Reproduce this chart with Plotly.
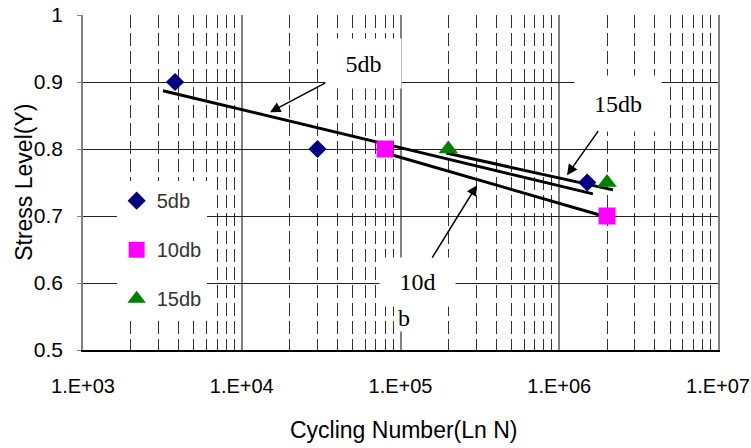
import plotly.graph_objects as go

# ---- data ----
x_5db = [3.8e3, 3.0e4, 1.5e6]
y_5db = [0.90, 0.80, 0.75]
x_10db = [8.0e4, 2.0e6]
y_10db = [0.80, 0.70]
x_15db = [2.0e5, 2.0e6]
y_15db = [0.80, 0.75]

# trend lines (end points)
trend_5db_x = [3.19e3, 1.63e6]
trend_5db_y = [0.887, 0.733]
trend_10db_x = [7.64e4, 2.09e6]
trend_10db_y = [0.7955, 0.697]
trend_15db_x = [1.94e5, 2.18e6]
trend_15db_y = [0.794, 0.739]

x_tickvals = [1e3, 1e4, 1e5, 1e6, 1e7]
x_ticktext = ["1.E+03", "1.E+04", "1.E+05", "1.E+06", "1.E+07"]
y_tickvals = [0.5, 0.6, 0.7, 0.8, 0.9, 1.0]
y_ticktext = ["0.5", "0.6", "0.7", "0.8", "0.9", "1"]

SANS = "Liberation Sans, Arial, sans-serif"
SERIF = "Liberation Serif, Times New Roman, serif"

fig = go.Figure()

for tx, ty in [(trend_5db_x, trend_5db_y), (trend_10db_x, trend_10db_y), (trend_15db_x, trend_15db_y)]:
    fig.add_trace(go.Scatter(x=tx, y=ty, mode="lines", line=dict(color="black", width=3),
                             showlegend=False, hoverinfo="skip"))

fig.add_trace(go.Scatter(x=x_5db, y=y_5db, mode="markers", name="5db", legendgroup="a",
                         marker=dict(symbol="diamond", size=14, color="#000080")))
fig.add_trace(go.Scatter(x=x_10db, y=y_10db, mode="markers", name="10db", legendgroup="b",
                         marker=dict(symbol="square", size=17, color="#FF00FF")))
fig.add_trace(go.Scatter(x=x_15db, y=y_15db, mode="markers", name="15db", legendgroup="c",
                         marker=dict(symbol="triangle-up", size=17, color="#008000")))

ann_common = dict(xref="x", yref="y", axref="pixel", ayref="pixel", showarrow=True,
                  arrowhead=2, arrowsize=1.4, arrowwidth=1.5, arrowcolor="black",
                  bgcolor="white", font=dict(family=SERIF, size=24, color="black"))

fig.add_annotation(text="5db", x=4.178, y=0.855, ax=93, ay=-49, width=73, height=47, **ann_common)
fig.add_annotation(text="15db", x=6.049, y=0.761, ax=51, ay=-72, width=84, height=53, **ann_common)
fig.add_annotation(text="10d", x=5.482, y=0.746, ax=-60, ay=97, width=73, height=46, **ann_common)
fig.add_annotation(text="b", x=5.022, y=0.5, xref="x", yref="y", yshift=32, showarrow=False,
                   bgcolor="white", borderpad=0, font=dict(family=SERIF, size=24, color="black"))

# axis titles
fig.add_annotation(text="Cycling Number(Ln N)", x=0.506, y=-0.24, xref="paper", yref="paper",
                   xanchor="center", yanchor="middle", showarrow=False,
                   font=dict(family=SANS, size=23, color="black"))
fig.add_annotation(text="Stress Level(Y)", x=-0.094, y=0.5, xref="paper", yref="paper",
                   xanchor="center", yanchor="middle", showarrow=False, textangle=-90,
                   font=dict(family=SANS, size=23, color="black"))

fig.update_layout(
    width=751, height=448,
    margin=dict(l=83, r=33, t=15, b=98),
    paper_bgcolor="white", plot_bgcolor="white",
    showlegend=True,
    legend=dict(x=0.053, y=0.504, xanchor="left", yanchor="top", bgcolor="white",
                font=dict(family=SANS, size=20, color="#333333"), tracegroupgap=20,
                itemwidth=30),
    xaxis=dict(type="log", range=[3, 7], tickvals=x_tickvals, ticktext=x_ticktext,
               tickfont=dict(family=SANS, size=20, color="black"),
               showgrid=True, gridcolor="#808080", gridwidth=1.5,
               minor=dict(dtick="D1", showgrid=True, gridcolor="#333333", gridwidth=1,
                          griddash="13px,5px", ticks=""),
               showline=True, linecolor="black", linewidth=2, ticks="",
               ticklabelstandoff=17, automargin=False, ticklabeloverflow="allow",
               zeroline=False),
    yaxis=dict(range=[0.5, 1.0], tickvals=y_tickvals, ticktext=y_ticktext,
               tickfont=dict(family=SANS, size=21, color="black"),
               showgrid=True, gridcolor="#222222", gridwidth=1,
               showline=True, linecolor="#808080", linewidth=1.5, mirror=True,
               ticks="outside", ticklen=4, tickcolor="#808080",
               ticklabelstandoff=10, automargin=False, ticklabeloverflow="allow",
               zeroline=False),
)

fig.write_html("out.html", config={"displayModeBar": False},
               post_script="document.body.style.margin='0';")
